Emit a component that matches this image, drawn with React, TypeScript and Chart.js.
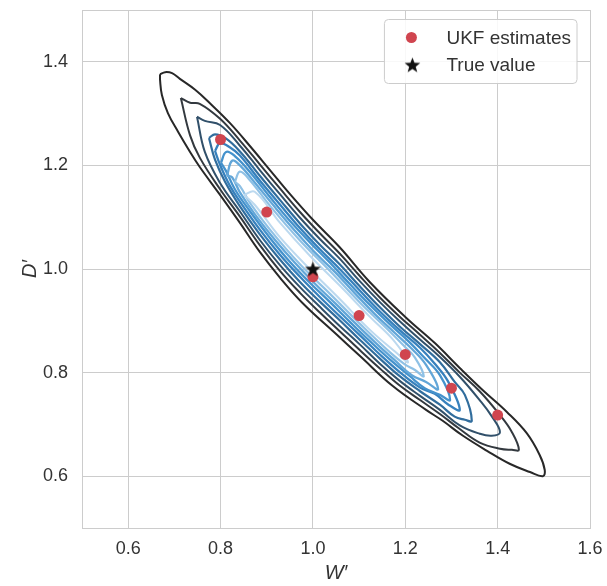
import React, { useEffect, useRef } from "react";
import { Chart, registerables } from "chart.js";

Chart.register(...registerables);

type Pt = [number, number];

// ---- axes ----
const xTickValues = [0.6, 0.8, 1.0, 1.2, 1.4, 1.6];
const yTickValues = [0.6, 0.8, 1.0, 1.2, 1.4];
const xMin = 0.5;
const xMax = 1.6;
const yMin = 0.5;
const yMax = 1.5;
const xTitle = "W′";
const yTitle = "D′";

// ---- markers ----
const ukfLabel = "UKF estimates";
const ukfW = [0.8, 0.9, 1.0, 1.1, 1.2, 1.3, 1.4];
const ukfD = [1.25, 1.11, 0.985, 0.91, 0.835, 0.77, 0.718];
const trueLabel = "True value";
const trueW = [1.0];
const trueD = [1.0];

// ---- KDE contour lines (outer -> inner) ----
const contour1: Pt[] = [
  [0.669, 1.376], [0.68, 1.38], [0.695, 1.378], [0.712, 1.367], [0.745, 1.346], [0.777, 1.32],
  [0.82, 1.282], [0.864, 1.237], [0.907, 1.191], [0.95, 1.145], [1.0, 1.095], [1.058, 1.042],
  [1.123, 0.975], [1.203, 0.905], [1.264, 0.857], [1.318, 0.809], [1.368, 0.766], [1.42, 0.724],
  [1.463, 0.683], [1.491, 0.641], [1.502, 0.612], [1.498, 0.6], [1.47, 0.608], [1.426, 0.624],
  [1.377, 0.649], [1.325, 0.678], [1.281, 0.707], [1.245, 0.728], [1.173, 0.774], [1.102, 0.832],
  [1.052, 0.873], [0.978, 0.934], [0.929, 0.983], [0.885, 1.033], [0.842, 1.089], [0.799, 1.143],
  [0.755, 1.197], [0.734, 1.226], [0.708, 1.265], [0.686, 1.301], [0.673, 1.336], [0.669, 1.365],
];
const contour2: Pt[] = [
  [0.714, 1.33], [0.734, 1.321], [0.755, 1.319], [0.799, 1.29], [0.842, 1.248], [0.885, 1.202],
  [0.929, 1.155], [0.972, 1.11], [1.015, 1.069], [1.058, 1.03], [1.102, 0.986], [1.145, 0.945],
  [1.188, 0.908], [1.232, 0.873], [1.275, 0.838], [1.318, 0.8], [1.361, 0.764], [1.405, 0.718],
  [1.431, 0.685], [1.446, 0.651], [1.431, 0.651], [1.405, 0.653], [1.361, 0.665], [1.318, 0.691],
  [1.275, 0.72], [1.232, 0.747], [1.188, 0.775], [1.145, 0.808], [1.102, 0.843], [1.058, 0.88],
  [1.015, 0.916], [0.972, 0.954], [0.929, 0.996], [0.885, 1.046], [0.842, 1.101], [0.799, 1.154],
  [0.755, 1.215], [0.734, 1.258],
];
const contour3: Pt[] = [
  [0.749, 1.294], [0.766, 1.286], [0.799, 1.278], [0.842, 1.238], [0.885, 1.191], [0.929, 1.144],
  [0.972, 1.099], [1.015, 1.058], [1.058, 1.02], [1.102, 0.976], [1.145, 0.936], [1.188, 0.899],
  [1.232, 0.864], [1.275, 0.83], [1.318, 0.792], [1.361, 0.747], [1.387, 0.716], [1.405, 0.685],
  [1.387, 0.678], [1.361, 0.682], [1.318, 0.698], [1.275, 0.728], [1.232, 0.755], [1.188, 0.784],
  [1.145, 0.817], [1.102, 0.854], [1.058, 0.89], [1.015, 0.927], [0.972, 0.965], [0.929, 1.007],
  [0.885, 1.056], [0.842, 1.111], [0.799, 1.166], [0.766, 1.226],
];
const contour4: Pt[] = [
  [0.775, 1.253], [0.788, 1.26], [0.81, 1.253], [0.842, 1.227], [0.885, 1.18], [0.929, 1.133],
  [0.972, 1.088], [1.015, 1.047], [1.058, 1.009], [1.102, 0.966], [1.145, 0.926], [1.188, 0.889],
  [1.232, 0.855], [1.275, 0.82], [1.307, 0.782], [1.329, 0.757], [1.344, 0.707], [1.329, 0.709],
  [1.307, 0.715], [1.275, 0.738], [1.232, 0.764], [1.188, 0.793], [1.145, 0.827], [1.102, 0.863],
  [1.058, 0.901], [1.015, 0.937], [0.972, 0.975], [0.929, 1.018], [0.885, 1.067], [0.842, 1.121],
  [0.81, 1.168], [0.788, 1.211],
];
const contour5: Pt[] = [
  [0.788, 1.228], [0.799, 1.243], [0.82, 1.235], [0.842, 1.219], [0.885, 1.171], [0.929, 1.124],
  [0.972, 1.079], [1.015, 1.038], [1.058, 1.0], [1.102, 0.958], [1.145, 0.918], [1.188, 0.882],
  [1.232, 0.848], [1.264, 0.817], [1.292, 0.784], [1.318, 0.728], [1.292, 0.739], [1.264, 0.759],
  [1.232, 0.771], [1.188, 0.801], [1.145, 0.835], [1.102, 0.872], [1.058, 0.909], [1.015, 0.946],
  [0.972, 0.985], [0.929, 1.027], [0.885, 1.076], [0.842, 1.13], [0.82, 1.161], [0.799, 1.201],
];
const contour6: Pt[] = [
  [0.801, 1.205], [0.812, 1.226], [0.831, 1.218], [0.864, 1.187], [0.907, 1.139], [0.95, 1.093],
  [0.994, 1.051], [1.037, 1.012], [1.08, 0.971], [1.123, 0.931], [1.167, 0.893], [1.21, 0.858],
  [1.242, 0.828], [1.275, 0.795], [1.297, 0.747], [1.275, 0.757], [1.242, 0.77], [1.21, 0.793],
  [1.167, 0.825], [1.123, 0.861], [1.08, 0.898], [1.037, 0.936], [0.994, 0.973], [0.95, 1.014],
  [0.907, 1.06], [0.864, 1.111], [0.831, 1.154], [0.812, 1.189],
];
const contour7: Pt[] = [
  [0.814, 1.18], [0.825, 1.209], [0.842, 1.2], [0.874, 1.167], [0.918, 1.119], [0.961, 1.074],
  [1.004, 1.032], [1.048, 0.994], [1.091, 0.953], [1.134, 0.913], [1.177, 0.877], [1.214, 0.846],
  [1.245, 0.815], [1.271, 0.768], [1.245, 0.782], [1.214, 0.795], [1.177, 0.824], [1.134, 0.859],
  [1.091, 0.896], [1.048, 0.934], [1.004, 0.972], [0.961, 1.012], [0.918, 1.056], [0.874, 1.106],
  [0.842, 1.148], [0.825, 1.177],
];
const contour8: Pt[] = [
  [0.831, 1.168], [0.842, 1.188], [0.864, 1.171], [0.907, 1.122], [0.972, 1.055], [1.037, 0.996],
  [1.102, 0.935], [1.167, 0.879], [1.199, 0.85], [1.221, 0.829], [1.24, 0.793], [1.221, 0.805],
  [1.199, 0.816], [1.167, 0.839], [1.102, 0.894], [1.037, 0.952], [0.972, 1.009], [0.907, 1.076],
  [0.864, 1.127], [0.842, 1.16],
];
const contour9: Pt[] = [
  [0.851, 1.143], [0.874, 1.149], [0.929, 1.089], [0.994, 1.025], [1.058, 0.968], [1.123, 0.908],
  [1.177, 0.86], [1.206, 0.82], [1.177, 0.841], [1.123, 0.883], [1.058, 0.942], [0.994, 0.999],
  [0.929, 1.061], [0.874, 1.124],
];

const contours: Pt[][] = [contour1, contour2, contour3, contour4, contour5, contour6, contour7, contour8, contour9];
const contourColors = ["#282828", "#33393f", "#31506a", "#316d9d", "#3781bd", "#4592cc", "#62a6d8", "#8fc1e5", "#bcd9ef"];
const contourWidths = [2, 2, 2, 2.2, 2.3, 2.3, 2.3, 2.2, 2];

const FONT = '"Liberation Sans", Arial, Helvetica, sans-serif';
const TEXT = "#333333";
const GRID = "#cccccc";
const RED = "#d0454f";

function makeStar(size: number, color: string): HTMLCanvasElement {
  const c = document.createElement("canvas");
  c.width = size;
  c.height = size;
  const ctx = c.getContext("2d")!;
  const cx = size / 2;
  const cy = size / 2 + 0.6;
  const R = size / 2 - 0.3;
  const r = R * 0.42;
  ctx.beginPath();
  for (let i = 0; i < 10; i++) {
    const rad = i % 2 === 0 ? R : r;
    const a = -Math.PI / 2 + (i * Math.PI) / 5;
    const px = cx + rad * Math.cos(a);
    const py = cy + rad * Math.sin(a);
    if (i === 0) ctx.moveTo(px, py);
    else ctx.lineTo(px, py);
  }
  ctx.closePath();
  ctx.fillStyle = color;
  ctx.fill();
  return c;
}

function zeroPadding(s: any) {
  s.paddingTop = 0;
  s.paddingBottom = 0;
  s.paddingLeft = 0;
  s.paddingRight = 0;
}

export default function App() {
  const ref = useRef<HTMLCanvasElement | null>(null);

  useEffect(() => {
    if (!ref.current) return;
    const star = makeStar(17, "#111111");

    const framePlugin = {
      id: "frame",
      beforeDatasetsDraw(chart: any) {
        const { ctx, chartArea: a } = chart;
        ctx.save();
        ctx.strokeStyle = GRID;
        ctx.lineWidth = 1;
        ctx.strokeRect(Math.round(a.left) + 0.5, Math.round(a.top) + 0.5, Math.round(a.right - a.left), Math.round(a.bottom - a.top));
        ctx.restore();
      },
    };

    const legendPlugin = {
      id: "boxLegend",
      afterDraw(chart: any) {
        const { ctx, chartArea: a } = chart;
        const items = chart.data.datasets.filter((d: any) => d.label).slice().reverse();
        ctx.save();
        ctx.font = `19px ${FONT}`;
        const textW = Math.max(...items.map((d: any) => ctx.measureText(d.label).width));
        const width = textW + 68;
        const height = 64;
        const right = a.right - 13;
        const left = right - width;
        const top = a.top + 9.5;
        const r = 4;
        ctx.beginPath();
        ctx.moveTo(left + r, top);
        ctx.lineTo(right - r, top);
        ctx.arcTo(right, top, right, top + r, r);
        ctx.lineTo(right, top + height - r);
        ctx.arcTo(right, top + height, right - r, top + height, r);
        ctx.lineTo(left + r, top + height);
        ctx.arcTo(left, top + height, left, top + height - r, r);
        ctx.lineTo(left, top + r);
        ctx.arcTo(left, top, left + r, top, r);
        ctx.closePath();
        ctx.fillStyle = "rgba(255,255,255,0.85)";
        ctx.fill();
        ctx.strokeStyle = GRID;
        ctx.lineWidth = 1;
        ctx.stroke();
        items.forEach((d: any, i: number) => {
          const cy = top + 18 + i * 27.5;
          const mx = left + 27;
          if (d.pointStyle === "circle") {
            ctx.beginPath();
            ctx.arc(mx, cy, d.pointRadius, 0, Math.PI * 2);
            ctx.fillStyle = d.backgroundColor;
            ctx.fill();
          } else {
            const img = d.pointStyle as HTMLCanvasElement;
            ctx.drawImage(img, mx - img.width / 2 + 1, cy - img.height / 2);
          }
          ctx.fillStyle = TEXT;
          ctx.textBaseline = "middle";
          ctx.textAlign = "left";
          ctx.fillText(d.label, left + 62, cy + 1);
        });
        ctx.restore();
      },
    };

    const datasets: any[] = [
      {
        label: trueLabel,
        data: trueW.map((w, i) => ({ x: w, y: trueD[i] })),
        pointStyle: star,
        pointRadius: 8,
        showLine: false,
      },
      {
        label: ukfLabel,
        data: ukfW.map((w, i) => ({ x: w, y: ukfD[i] })),
        pointStyle: "circle",
        pointRadius: 5.5,
        pointBorderWidth: 0,
        borderWidth: 0,
        backgroundColor: RED,
        pointBackgroundColor: RED,
        showLine: false,
      },
    ];
    for (let k = contours.length - 1; k >= 0; k--) {
      const pts = contours[k];
      datasets.push({
        label: "",
        data: pts.concat([pts[0]]).map(([x, y]) => ({ x, y })),
        showLine: true,
        borderColor: contourColors[k],
        borderWidth: contourWidths[k],
        pointRadius: 0,
        tension: 0.4,
        fill: false,
      });
    }

    const chart = new Chart(ref.current, {
      type: "scatter",
      data: { datasets },
      options: {
        responsive: false,
        animation: false,
        devicePixelRatio: 1,
        layout: { padding: { top: 10, right: 17, left: 0, bottom: 0 } },
        plugins: { legend: { display: false }, tooltip: { enabled: false } },
        scales: {
          x: {
            type: "linear",
            min: xMin,
            max: xMax,
            afterBuildTicks: (s: any) => {
              s.ticks = xTickValues.map((v) => ({ value: v }));
            },
            afterFit: (s: any) => {
              s.height = 58;
              zeroPadding(s);
            },
            ticks: {
              callback: (v: any) => Number(v).toFixed(1),
              font: { family: FONT, size: 18 },
              color: TEXT,
              padding: 10,
              maxRotation: 0,
              autoSkip: false,
            },
            grid: { color: GRID, lineWidth: 1, drawTicks: false },
            border: { display: true, color: GRID, width: 1 },
            title: {
              display: true,
              text: xTitle,
              font: { family: FONT, size: 20, style: "italic" },
              color: TEXT,
              padding: { top: 0, bottom: 1 },
            },
          },
          y: {
            type: "linear",
            min: yMin,
            max: yMax,
            afterBuildTicks: (s: any) => {
              s.ticks = yTickValues.map((v) => ({ value: v }));
            },
            afterFit: (s: any) => {
              s.width = 82;
              zeroPadding(s);
            },
            ticks: {
              callback: (v: any) => Number(v).toFixed(1),
              font: { family: FONT, size: 18 },
              color: TEXT,
              padding: 14,
              autoSkip: false,
            },
            grid: { color: GRID, lineWidth: 1, drawTicks: false },
            border: { display: true, color: GRID, width: 1 },
            title: {
              display: true,
              text: yTitle,
              font: { family: FONT, size: 20, style: "italic" },
              color: TEXT,
              padding: { top: 18, bottom: 0 },
            },
          },
        },
      } as any,
      plugins: [framePlugin, legendPlugin],
    });
    return () => chart.destroy();
  }, []);

  return (
    <div style={{ position: "absolute", left: 0, top: 0, width: 607, height: 586, background: "#fff" }}>
      <canvas ref={ref} width={607} height={586} style={{ display: "block", width: 607, height: 586 }} />
    </div>
  );
}
